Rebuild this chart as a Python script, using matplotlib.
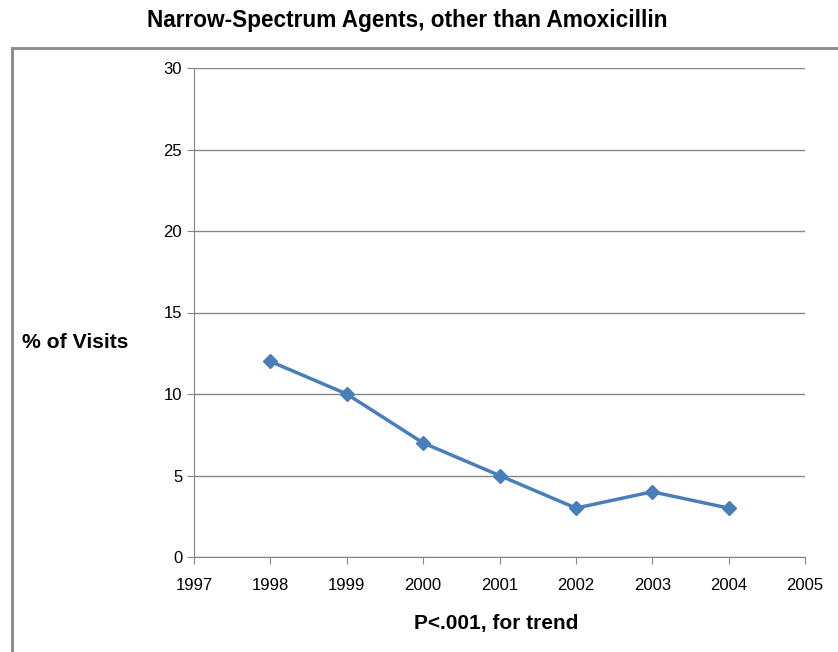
import matplotlib.pyplot as plt
from matplotlib.lines import Line2D

plt.rcParams['font.family'] = ['Liberation Sans', 'DejaVu Sans']

years = [1998, 1999, 2000, 2001, 2002, 2003, 2004]
pct_visits = [12, 10, 7, 5, 3, 4, 3]
x_ticks = list(range(1997, 2006))
y_ticks = [0, 5, 10, 15, 20, 25, 30]

W, H = 838, 652
fig = plt.figure(figsize=(W / 100, H / 100), dpi=100)
ax = fig.add_axes([194 / W, 1 - 557 / H, (805 - 194) / W, (557 - 68) / H])

# outer chart frame (only left and top edges are visible in the crop)
gray = '#888888'
fig.add_artist(Line2D([12 / W, 12 / W], [0, 1 - 48 / H], color=gray, lw=2, transform=fig.transFigure))
fig.add_artist(Line2D([12 / W, 1], [1 - 48 / H, 1 - 48 / H], color=gray, lw=2, transform=fig.transFigure))

ax.plot(years, pct_visits, color='#4a7ebb', lw=2.5, marker='D', markersize=7, zorder=3)

ax.set_xlim(1997, 2005)
ax.set_ylim(0, 30)
ax.set_xticks(x_ticks)
ax.set_yticks(y_ticks)
ax.yaxis.grid(True, color='#868686', lw=1)
ax.set_axisbelow(True)
for s in ['top', 'right']:
    ax.spines[s].set_visible(False)
for s in ['left', 'bottom']:
    ax.spines[s].set_color('#868686')
ax.tick_params(axis='both', colors='#868686', labelcolor='black', labelsize=12, length=5, direction='out')
ax.tick_params(axis='x', pad=10)

fig.text(407 / W, 1 - 20 / H, 'Narrow-Spectrum Agents, other than Amoxicillin',
         ha='center', va='center', fontsize=16.3, fontweight='bold')
fig.text(22 / W, 1 - 343 / H, '% of Visits', ha='left', va='center', fontsize=15.2, fontweight='bold')
fig.text(496 / W, 1 - 623 / H, 'P<.001, for trend', ha='center', va='center', fontsize=15, fontweight='bold')

fig.savefig('out.png', dpi=100)
